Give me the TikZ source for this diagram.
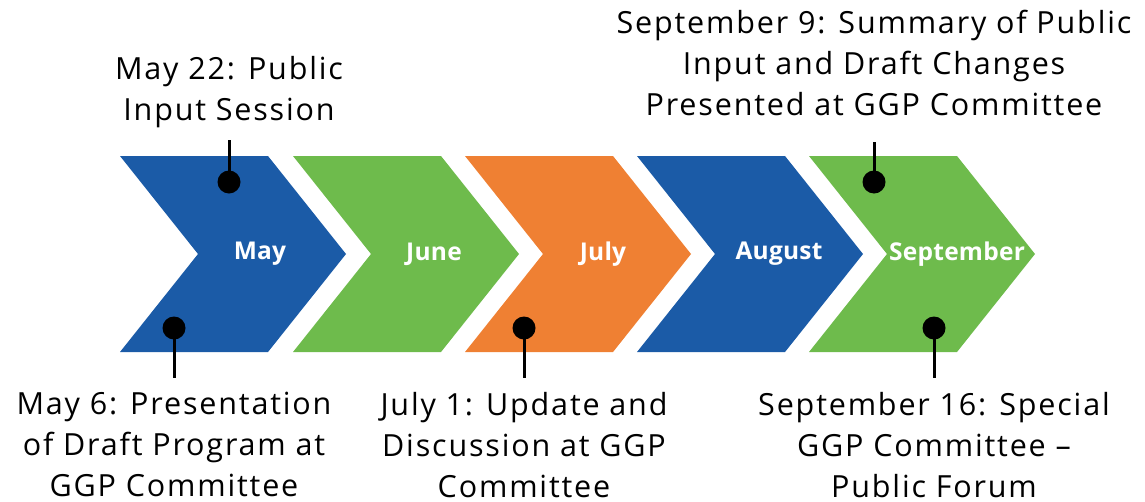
\documentclass[tikz,border=0pt]{standalone}
\usepackage{fontspec}
\setmainfont{Open Sans}[LetterSpace=6]
\newfontfamily\monthfont{Open Sans}[LetterSpace=1]
\definecolor{ggpblue}{RGB}{27,91,167}
\definecolor{ggpgreen}{RGB}{110,187,76}
\definecolor{ggporange}{RGB}{239,128,51}
\tikzset{
	month/.style={text=white,inner sep=0pt,font=\monthfont\bfseries\fontsize{24.5}{28}\selectfont},
	event/.style={align=center,inner sep=0pt,font=\fontsize{30.5}{41.2}\selectfont},
	pin/.style={circle,fill=black,minimum size=23pt,inner sep=0pt},
	stem/.style={line width=3pt,line cap=butt},
}
\begin{document}
\begin{tikzpicture}[x=1pt,y=-1pt,line join=round]
			\def\w{148} \def\tip{78}
			\def\ytop{156} \def\ymid{254}
			\useasboundingbox (0,0) rectangle (1145,501);
			%chevrons
			\foreach \x/\c/\m/\n/\l in {120/ggpblue/May/may/260, 293/ggpgreen/June/jun/434, 465/ggporange/July/jul/603, 637/ggpblue/August/aug/779, 809/ggpgreen/September/sep/957}{
				\fill[\c] (\x,\ytop) -- ++(\w,0) -- ++(\tip,98) -- ++(-\tip,98) -- ++(-\w,0) -- ++(\tip,-98) -- cycle;
				\node[month] (\n) at (\l,\ymid) {\m};
			}
			%events above
			\node[pin] (p1) at (229,182) {};
			\node[pin] (p2) at (874,182) {};
			\node[event,anchor=north] (t1) at (229,56) {May 22: Public\\Input Session};
			\node[event,anchor=north] (t2) at (874,10) {September 9: Summary of Public\\Input and Draft Changes\\Presented at GGP Committee};
			\coordinate (e1) at (229,140);
			\coordinate (e2) at (874,142);
			%events below
			\node[pin] (p3) at (174,328) {};
			\node[pin] (p4) at (524,328) {};
			\node[pin] (p5) at (934,328) {};
			\node[event,anchor=north] (t3) at (174,392) {May 6: Presentation\\of Draft Program at\\GGP Committee};
			\node[event,anchor=north] (t4) at (524,392) {July 1: Update and\\Discussion at GGP\\Committee};
			\node[event,anchor=north] (t5) at (934,392) {September 16: Special\\GGP Committee –\\Public Forum};
			\coordinate (e3) at (174,378);
			\coordinate (e4) at (524,378);
			\coordinate (e5) at (934,378);
			\foreach \p/\e in {p1/e1, p2/e2, p3/e3, p4/e4, p5/e5}
			\draw[stem] (\p.center) -- (\e);
		\end{tikzpicture}
\end{document}
